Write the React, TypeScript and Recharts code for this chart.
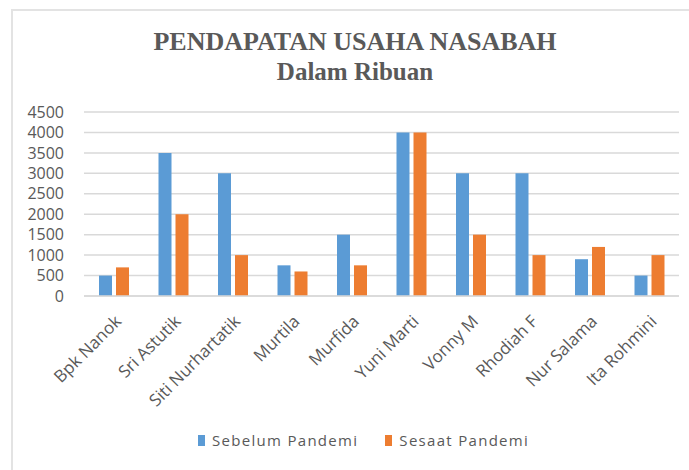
import React from "react";
import { BarChart, Bar, XAxis, YAxis, CartesianGrid, Legend } from "recharts";

const categories = [
  "Bpk Nanok",
  "Sri Astutik",
  "Siti Nurhartatik",
  "Murtila",
  "Murfida",
  "Yuni Marti",
  "Vonny M",
  "Rhodiah F",
  "Nur Salama",
  "Ita Rohmini",
];
const sebelumPandemi = [500, 3500, 3000, 750, 1500, 4000, 3000, 3000, 900, 500];
const sesaatPandemi = [700, 2000, 1000, 600, 750, 4000, 1500, 1000, 1200, 1000];
const yTicks = [0, 500, 1000, 1500, 2000, 2500, 3000, 3500, 4000, 4500];
const seriesNames = ["Sebelum Pandemi", "Sesaat Pandemi"];
const titleText = "PENDAPATAN USAHA NASABAH";
const subtitleText = "Dalam Ribuan";

const BLUE = "#5B9BD5";
const ORANGE = "#ED7D31";
const TEXT = "#595959";
const GRID = "#D9D9D9";
const SANS = "'Open Sans', 'Liberation Sans', sans-serif";

const data = categories.map((name, i) => ({
  name,
  sebelum: sebelumPandemi[i],
  sesaat: sesaatPandemi[i],
}));

const LegendContent = () => (
  <div
    style={{
      display: "flex",
      alignItems: "center",
      paddingLeft: 198,
      fontFamily: SANS,
      fontSize: 15,
      color: TEXT,
      letterSpacing: 1.3,
      height: 20,
    }}
  >
    {[BLUE, ORANGE].map((c, i) => (
      <div
        key={i}
        style={{ display: "flex", alignItems: "center", marginRight: i === 0 ? 27 : 0 }}
      >
        <span
          style={{ display: "inline-block", width: 7, height: 11, background: c, marginRight: 7 }}
        />
        <span>{seriesNames[i]}</span>
      </div>
    ))}
  </div>
);

export default function App() {
  return (
    <div style={{ position: "absolute", left: 0, top: 0, width: 689, height: 470, background: "#fff" }}>
      <div
        style={{
          position: "absolute",
          left: 11,
          top: 9,
          width: 676,
          height: 459,
          borderLeft: "2px solid #e3e3e3",
          borderTop: "2px solid #e3e3e3",
        }}
      />
      <BarChart
        width={689}
        height={470}
        data={data}
        margin={{ top: 112, right: 10, bottom: 0, left: 0 }}
        barSize={13}
        barGap={4}
      >
        <CartesianGrid vertical={false} stroke={GRID} strokeWidth={1.5} />
        <XAxis
          dataKey="name"
          interval={0}
          angle={-45}
          textAnchor="end"
          tickLine={false}
          tickSize={6}
          tickMargin={12}
          axisLine={{ stroke: GRID, strokeWidth: 1.5 }}
          tick={{ fill: TEXT, fontSize: 17, fontFamily: SANS }}
          height={154}
        />
        <YAxis
          width={84}
          domain={[0, 4500]}
          ticks={yTicks}
          interval={0}
          axisLine={false}
          tickLine={false}
          tickSize={0}
          tickMargin={20}
          tick={{ fill: TEXT, fontSize: 16, fontFamily: SANS }}
        />
        <Bar dataKey="sebelum" name={seriesNames[0]} fill={BLUE} isAnimationActive={false} />
        <Bar dataKey="sesaat" name={seriesNames[1]} fill={ORANGE} isAnimationActive={false} />
        <Legend
          content={<LegendContent />}
          wrapperStyle={{ position: "absolute", top: 430, left: 0, width: 689 }}
        />
      </BarChart>
      <div
        style={{
          position: "absolute",
          left: 0,
          top: 27,
          width: 710,
          textAlign: "center",
          fontFamily: "'Liberation Serif', serif",
          fontWeight: "bold",
          fontSize: 26,
          color: TEXT,
          lineHeight: "30px",
        }}
      >
        {titleText}
      </div>
      <div
        style={{
          position: "absolute",
          left: 0,
          top: 58,
          width: 710,
          textAlign: "center",
          fontFamily: "'Liberation Serif', serif",
          fontWeight: "bold",
          fontSize: 25,
          color: TEXT,
          lineHeight: "28px",
        }}
      >
        {subtitleText}
      </div>
    </div>
  );
}
